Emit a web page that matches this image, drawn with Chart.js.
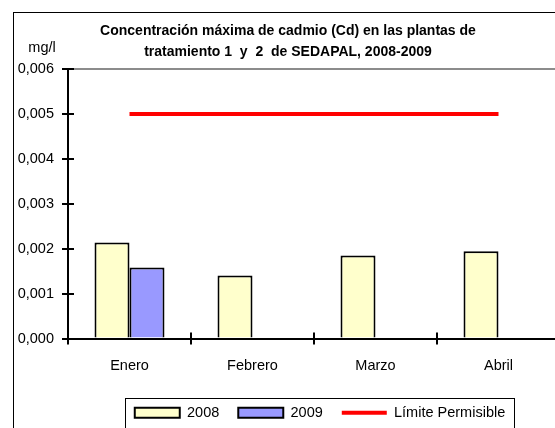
<!DOCTYPE html>
<html>
<head>
<meta charset="utf-8">
<script src="https://cdn.jsdelivr.net/npm/chart.js@4/dist/chart.umd.min.js"></script>
<style>
  html, body { margin: 0; padding: 0; background: #fff; overflow: hidden; }
  #wrap { position: absolute; left: 0; top: 0; width: 560px; height: 430px; }
</style>
</head>
<body>
<div id="wrap"><canvas id="c" width="560" height="430"></canvas></div>
<script>
// ---- data ----
const categories = ["Enero", "Febrero", "Marzo", "Abril"];
const values2008 = [0.00214, 0.00140, 0.00185, 0.00194];
const values2009 = [0.00158, null, null, null];
const limitValues = [0.005, 0.005, 0.005, 0.005];
const seriesNames = ["2008", "2009", "Límite Permisible"];
const titleLines = ["Concentración máxima de cadmio (Cd) en las plantas de", "tratamiento 1  y  2  de SEDAPAL, 2008-2009"];
const unitLabel = "mg/l";
const yMin = 0, yMax = 0.006, yStep = 0.001;

const FONT = "'Liberation Sans', Arial, sans-serif";
Chart.defaults.font.family = FONT;
Chart.defaults.color = "#000";

const decor = {
  id: "decor",
  afterLayout(chart) {
    if (chart.titleBlock) { chart.titleBlock.left += 8; chart.titleBlock.right += 8; }
    if (chart.legend) { chart.legend.left += 6; chart.legend.right += 6; }
  },
  beforeDraw(chart) {
    const ctx = chart.ctx;
    ctx.save();
    ctx.fillStyle = "#fff";
    ctx.fillRect(0, 0, chart.width, chart.height);
    ctx.strokeStyle = "#000";
    ctx.lineWidth = 1;
    ctx.strokeRect(13.5, 12.5, 1000, 1000);
    ctx.fillStyle = "#000";
    ctx.font = "14.5px " + FONT;
    ctx.textAlign = "center";
    ctx.textBaseline = "alphabetic";
    ctx.fillText(unitLabel, 42, 52);
    ctx.restore();
  },
  afterDraw(chart) {
    const ctx = chart.ctx;
    const xs = chart.scales.x, ys = chart.scales.y;
    const area = chart.chartArea;
    ctx.save();
    ctx.strokeStyle = "#000";
    ctx.lineWidth = 2;
    ctx.beginPath();
    ys.ticks.forEach(t => {
      const y = Math.round(ys.getPixelForValue(t.value));
      ctx.moveTo(area.left - 6, y);
      ctx.lineTo(area.left + 6, y);
    });
    for (let i = 0; i <= categories.length; i++) {
      const x = Math.round(xs.getPixelForValue(i - 0.5));
      ctx.moveTo(x, area.bottom - 6);
      ctx.lineTo(x, area.bottom + 6);
    }
    ctx.stroke();
    const lg = chart.legend;
    if (lg && lg.legendHitBoxes && lg.legendHitBoxes.length) {
      const hb = lg.legendHitBoxes;
      const first = hb[0], last = hb[hb.length - 1];
      const l = Math.round(first.left - 10) + 0.5;
      const r = Math.round(last.left + last.width + 9) + 0.5;
      const top = Math.round(first.top + first.height / 2 - 15) + 0.5;
      ctx.lineWidth = 1;
      ctx.strokeRect(l, top, r - l, 100);
    }
    ctx.restore();
  }
};

new Chart(document.getElementById("c"), {
  type: "bar",
  data: {
    labels: categories,
    datasets: [
      {
        label: seriesNames[0],
        data: values2008,
        backgroundColor: "#FFFFCC",
        borderColor: "#000",
        borderWidth: 2,
        pointStyle: "rect",
        categoryPercentage: 0.569,
        barPercentage: 1.0,
        order: 2
      },
      {
        label: seriesNames[1],
        data: values2009,
        backgroundColor: "#9999FF",
        borderColor: "#000",
        borderWidth: 2,
        pointStyle: "rect",
        categoryPercentage: 0.569,
        barPercentage: 1.0,
        order: 2
      },
      {
        type: "line",
        label: seriesNames[2],
        data: limitValues,
        borderColor: "#FF0000",
        backgroundColor: "#FF0000",
        borderWidth: 4,
        pointRadius: 0,
        pointStyle: "line",
        fill: false,
        order: 1
      }
    ]
  },
  options: {
    responsive: false,
    animation: false,
    devicePixelRatio: 1,
    layout: { padding: 0 },
    plugins: {
      title: {
        display: true,
        text: titleLines,
        font: { size: 14, weight: "bold", lineHeight: 1.5 },
        padding: { top: 20.5, bottom: 6.5 },
        color: "#000"
      },
      legend: {
        display: true,
        position: "bottom",
        fullSize: false,
        labels: {
          usePointStyle: true,
          pointStyleWidth: 45,
          boxHeight: 10,
          padding: 19,
          font: { size: 14.5 },
          color: "#000",
          sort: (a, b) => a.datasetIndex - b.datasetIndex
        }
      },
      tooltip: { enabled: false }
    },
    scales: {
      x: {
        offset: true,
        grid: { display: false, drawTicks: false },
        border: { display: true, color: "#000", width: 2 },
        ticks: { padding: 19, font: { size: 14.5 }, color: "#000", maxRotation: 0 },
        afterFit(s) { s.height = 48; }
      },
      y: {
        min: yMin,
        max: yMax,
        grid: {
          drawTicks: false,
          color: c => (c.tick && c.tick.value >= yMax - 1e-9) ? "#8c8c8c" : "rgba(0,0,0,0)",
          lineWidth: 2
        },
        border: { display: true, color: "#000", width: 2 },
        ticks: {
          stepSize: yStep,
          padding: 14,
          font: { size: 14.5 },
          color: "#000",
          callback: v => Number(v).toFixed(3).replace(".", ",")
        },
        afterFit(s) { s.width = 68; }
      }
    }
  },
  plugins: [decor]
});
</script>
</body>
</html>
